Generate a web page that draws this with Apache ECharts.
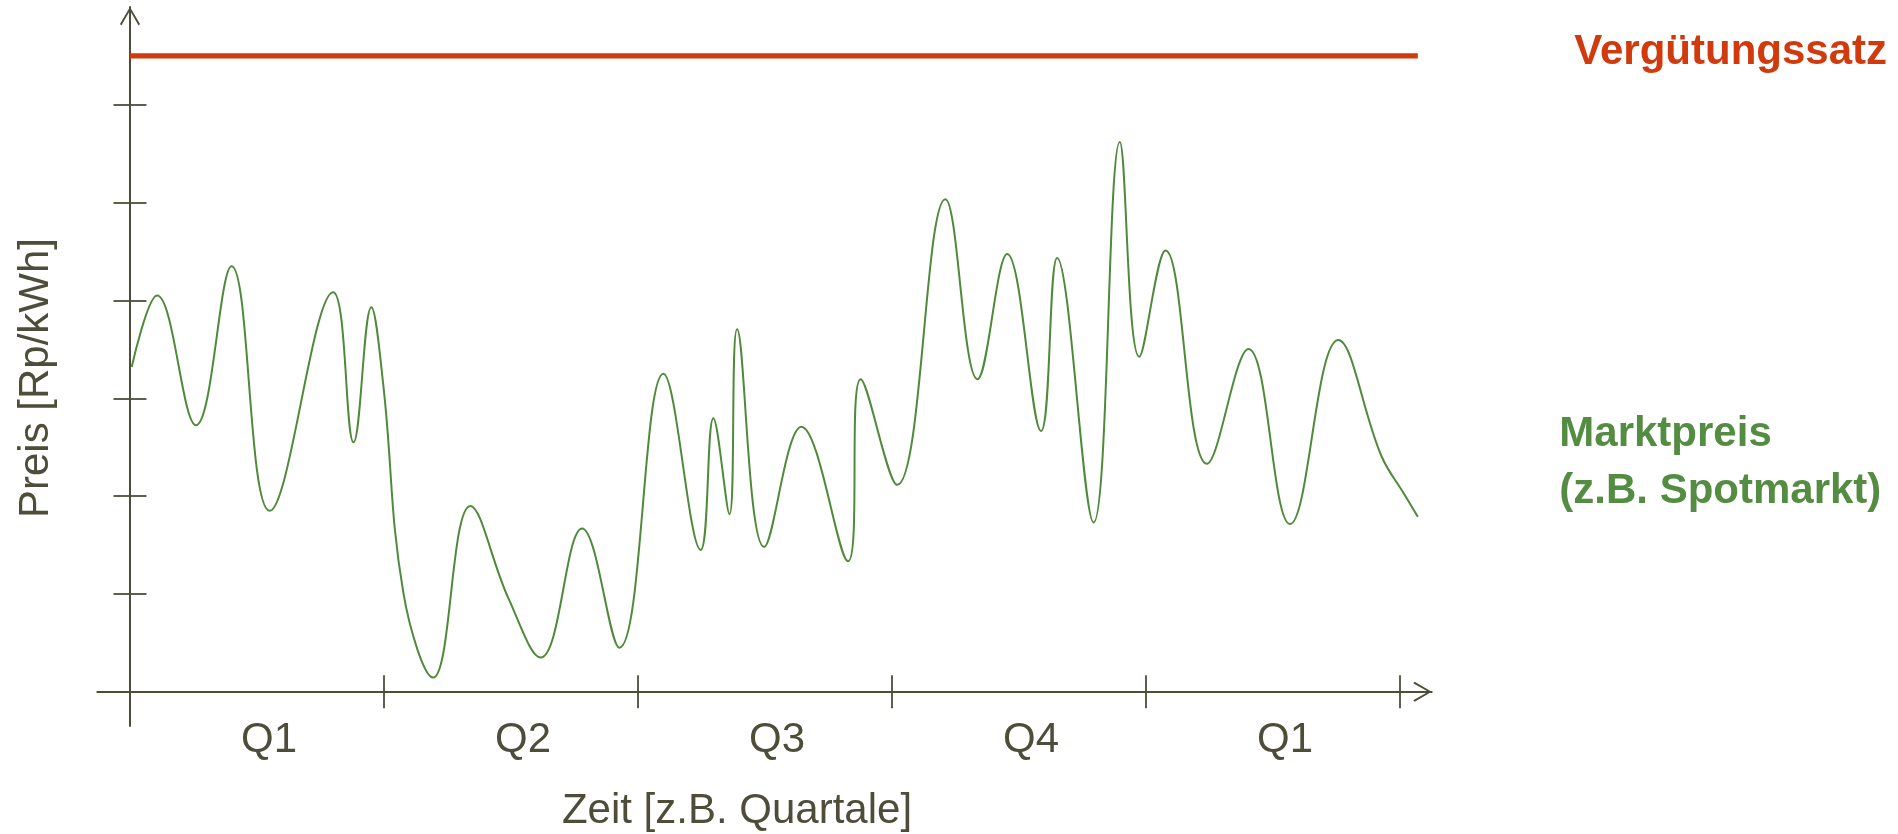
<!DOCTYPE html>
<html>
<head>
<meta charset="utf-8">
<title>Marktpreis und Vergütungssatz</title>
<script src="https://cdn.jsdelivr.net/npm/echarts@6/dist/echarts.min.js"></script>
<style>
  html, body { margin: 0; padding: 0; background: #ffffff; }
  #chart { width: 1898px; height: 834px; }
</style>
</head>
<body>
<div id="chart"></div>
<script>
// Time runs in months from the start of the first quarter, prices in Rp/kWh.
const quarterLabels = ['Q1', 'Q2', 'Q3', 'Q4', 'Q1'];
const quarterBounds = [3, 6, 9, 12, 15];
const quarterMids = [1.5, 4.5, 7.5, 10.5, 13.5];
const priceTicks = [2, 4, 6, 8, 10, 12];

// Spot market price (turning points and a few shoulders of the curve)
const marketMonths = [
  0.02, 0.32, 0.78, 1.20, 1.65, 2.40, 2.64, 2.85, 2.99, 3.23,
  3.58, 4.02, 4.47, 4.85, 5.34, 5.78, 6.30, 6.74, 6.89, 7.08,
  7.17, 7.49, 7.93, 8.48, 8.63, 9.06, 9.63, 10.01, 10.36, 10.76,
  10.95, 11.38, 11.69, 11.92, 12.23, 12.72, 13.21, 13.70, 14.27, 14.78,
  15.05, 15.21
];
const marketPrices = [
  6.64, 8.10, 5.45, 8.70, 3.70, 8.17, 5.10, 7.86, 6.30, 2.01,
  0.29, 3.80, 1.91, 0.70, 3.34, 0.90, 6.50, 2.90, 5.59, 3.63,
  7.41, 2.96, 5.42, 2.67, 6.39, 4.23, 10.07, 6.39, 8.95, 5.33,
  8.87, 3.46, 11.24, 6.85, 9.02, 4.66, 7.01, 3.43, 7.19, 4.82,
  4.04, 3.58
];

// Fixed feed-in tariff
const tariffMonths = [0, 15.21];
const tariffPrices = [13, 13];

const AXIS = '#4d4d39';
const GREEN_LINE = '#4e8a3a';
const GREEN_TEXT = '#548c42';
const RED = '#d03a0c';
const FONT = '"Liberation Sans", Arial, Helvetica, sans-serif';

// open arrow head (thin chevron pointing up; rotated by the axis)
const chevron = 'path://M10,0 L20,17 L18.6,18.5 L10,3.4 L1.4,18.5 L0,17 Z';

const xRange = { min: -0.386, max: 15.374 };
const yRange = { min: -0.70, max: 14 };

function pairs(xs, ys) {
  return xs.map(function (x, i) { return [x, ys[i]]; });
}
function lastPoint(xs, ys) {
  return [xs[xs.length - 1], ys[ys.length - 1]];
}

// name tag placed to the right of a line's last point
function seriesTag(xs, ys, text, color, dx, dy, lineHeight) {
  return {
    silent: true,
    symbol: 'circle',
    symbolSize: 1,
    itemStyle: { color: 'rgba(0,0,0,0)' },
    label: {
      show: true, position: [dx, dy], align: 'left', verticalAlign: 'middle',
      formatter: text, color: color, fontSize: 42, fontWeight: 'bold',
      fontFamily: FONT, lineHeight: lineHeight
    },
    data: [{ coord: lastPoint(xs, ys) }]
  };
}

const chart = echarts.init(document.getElementById('chart'), null, { renderer: 'canvas' });

const option = {
  animation: false,
  backgroundColor: '#ffffff',
  grid: { left: 97.3, right: 466.3, top: 7, bottom: 108, containLabel: false, outerBoundsMode: 'none' },
  xAxis: [
    {
      type: 'value', position: 'bottom', min: xRange.min, max: xRange.max,
      axisLine: {
        show: true, onZero: true,
        symbol: ['none', chevron], symbolSize: [20, 18.5], symbolOffset: [0, -9.25],
        lineStyle: { color: AXIS, width: 2 }
      },
      axisTick: { show: true, inside: true, length: 16.5, customValues: quarterBounds,
        lineStyle: { color: AXIS, width: 1.8 } },
      axisLabel: {
        show: true, customValues: quarterMids,
        formatter: function (v) { return quarterLabels[Math.floor(v / 3)]; },
        color: AXIS, fontSize: 42, fontFamily: FONT, margin: -7, padding: [0, 0, 0, 24]
      },
      splitLine: { show: false },
      name: 'Zeit [z.B. Quartale]', nameLocation: 'middle', nameGap: 64,
      nameTextStyle: { color: AXIS, fontSize: 42, fontFamily: FONT, padding: [0, 55, 0, 0] }
    },
    {
      type: 'value', position: 'bottom', min: xRange.min, max: xRange.max,
      axisLine: { show: true, onZero: true, lineStyle: { color: AXIS, width: 2, opacity: 0 } },
      axisTick: { show: true, inside: false, length: 16.5, customValues: quarterBounds,
        lineStyle: { color: AXIS, width: 1.8 } },
      axisLabel: { show: false },
      splitLine: { show: false }
    }
  ],
  yAxis: [
    {
      type: 'value', position: 'left', min: yRange.min, max: yRange.max,
      axisLine: {
        show: true, onZero: true,
        symbol: ['none', chevron], symbolSize: [20, 18.5], symbolOffset: [0, -9.25],
        lineStyle: { color: AXIS, width: 2 }
      },
      axisTick: { show: true, inside: true, length: 16.5, customValues: priceTicks,
        lineStyle: { color: AXIS, width: 1.8 } },
      axisLabel: { show: false },
      splitLine: { show: false },
      name: 'Preis [Rp/kWh]', nameLocation: 'middle', nameGap: 40,
      nameTextStyle: { color: AXIS, fontSize: 42, fontFamily: FONT, padding: [0, 23, 0, 0] }
    },
    {
      type: 'value', position: 'left', min: yRange.min, max: yRange.max,
      axisLine: { show: true, onZero: true, lineStyle: { color: AXIS, width: 2, opacity: 0 } },
      axisTick: { show: true, inside: false, length: 16.5, customValues: priceTicks,
        lineStyle: { color: AXIS, width: 1.8 } },
      axisLabel: { show: false },
      splitLine: { show: false }
    }
  ],
  series: [
    {
      type: 'line', name: 'Marktpreis',
      xAxisIndex: 0, yAxisIndex: 0,
      data: pairs(marketMonths, marketPrices),
      smooth: 0.4, symbol: 'none', showSymbol: false, clip: false,
      lineStyle: { color: GREEN_LINE, width: 2 },
      markPoint: seriesTag(marketMonths, marketPrices, 'Marktpreis\n(z.B. Spotmarkt)',
        GREEN_TEXT, 142, -53.2, 57),
      z: 3
    },
    {
      type: 'line', name: 'Vergütungssatz',
      xAxisIndex: 0, yAxisIndex: 0,
      data: pairs(tariffMonths, tariffPrices),
      symbol: 'none', showSymbol: false, clip: false,
      lineStyle: { color: RED, width: 5.3 },
      markPoint: seriesTag(tariffMonths, tariffPrices, 'Vergütungssatz',
        RED, 157, -3.2, 42),
      z: 3
    }
  ]
};

chart.setOption(option);
</script>
</body>
</html>
